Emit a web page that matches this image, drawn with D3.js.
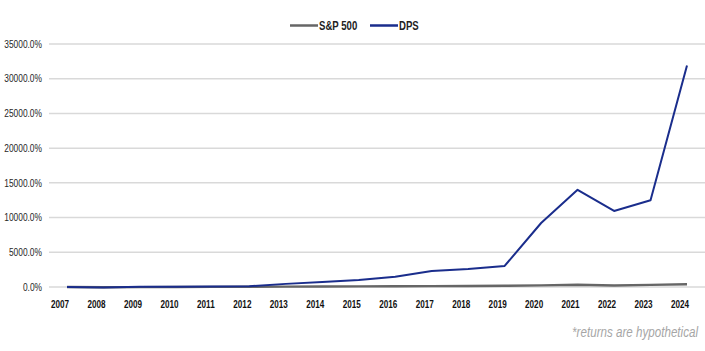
<!DOCTYPE html>
<html>
<head>
<meta charset="utf-8">
<script src="https://cdn.jsdelivr.net/npm/d3@7"></script>
<style>
  body { margin: 0; background: #fff; }
  svg { display: block; font-family: "Liberation Sans", Arial, sans-serif; }
</style>
</head>
<body>
<div id="chart"></div>
<script>
// Years on the x axis
const years = [2007, 2008, 2009, 2010, 2011, 2012, 2013, 2014, 2015, 2016,
	2017, 2018, 2019, 2020, 2021, 2022, 2023, 2024];

// Cumulative returns (%)
const dpsValues = [0, -60, 20, 40, 80, 100, 450, 720, 1000, 1480,
	2300, 2600, 3030, 9220, 14000, 10950, 12500, 31900];
const spValues = [0, -40, -20, 0, 20, 30, 50, 70, 90, 110,
	130, 150, 170, 230, 320, 220, 300, 400];

const yTicks = [0, 5000, 10000, 15000, 20000, 25000, 30000, 35000];

const width = 705, height = 351;
const margin = { top: 44, left: 49, right: 0, bottom: 64 };

const svg = d3.select("#chart")
	.append("svg")
	.attr("width", width)
	.attr("height", height);

const x = d3.scalePoint()
	.domain(years)
	.range([67, 687]);

const y = d3.scaleLinear()
	.domain([0, 35000])
	.range([287, 44]);

// The original uses a narrow font, so squeeze text horizontally
function narrowText(sel, px, py, sx) {
	return sel.attr("transform", (d, i) =>
		`translate(${typeof px === "function" ? px(d, i) : px},${typeof py === "function" ? py(d, i) : py}) scale(${sx},1)`);
}

// Gridlines
svg.append("g")
	.selectAll("line")
	.data(yTicks)
	.join("line")
	.attr("x1", margin.left)
	.attr("x2", width)
	.attr("y1", (d) => y(d))
	.attr("y2", (d) => y(d))
	.attr("stroke", "#d9d9d9")
	.attr("stroke-width", 1.5);

// Y labels
svg.append("g")
	.selectAll("text")
	.data(yTicks)
	.join("text")
	.call(narrowText, 42, (d) => y(d) + 3.7, 0.84)
	.attr("text-anchor", "end")
	.style("font-size", "10px")
	.attr("fill", "#262626")
	.text((d) => d3.format(".1f")(d) + "%");

// X labels (bold, slightly left of the data points)
svg.append("g")
	.selectAll("text")
	.data(years)
	.join("text")
	.call(narrowText, (d) => x(d) - 7, 307.5, 0.74)
	.attr("text-anchor", "middle")
	.style("font-size", "11px")
	.style("font-weight", "bold")
	.attr("fill", "#111")
	.text((d) => d);

const line = d3.line()
	.x((d, i) => x(years[i]))
	.y((d) => y(d));

svg.append("path")
	.datum(spValues)
	.attr("fill", "none")
	.attr("stroke", "#666")
	.attr("stroke-width", 2.4)
	.attr("d", line);

svg.append("path")
	.datum(dpsValues)
	.attr("fill", "none")
	.attr("stroke", "#1a2d8c")
	.attr("stroke-width", 2)
	.attr("stroke-linejoin", "round")
	.attr("d", line);

// Legend
const legend = [
	{ name: "S&P 500", color: "#666", x: 290 },
	{ name: "DPS", color: "#1a2d8c", x: 370 },
];
const lg = svg.append("g");
legend.forEach((d) => {
	lg.append("line")
		.attr("x1", d.x)
		.attr("x2", d.x + 28)
		.attr("y1", 25.5)
		.attr("y2", 25.5)
		.attr("stroke", d.color)
		.attr("stroke-width", 2.5);
	lg.append("text")
		.call(narrowText, d.x + 29, 30, 0.8)
		.style("font-size", "12px")
		.style("font-weight", "bold")
		.attr("fill", "#222")
		.text(d.name);
});

// Footnote
svg.append("text")
	.call(narrowText, 698, 337, 0.83)
	.attr("text-anchor", "end")
	.style("font-size", "14px")
	.style("font-style", "italic")
	.attr("fill", "#a6a6a6")
	.text("*returns are hypothetical");
</script>
</body>
</html>
